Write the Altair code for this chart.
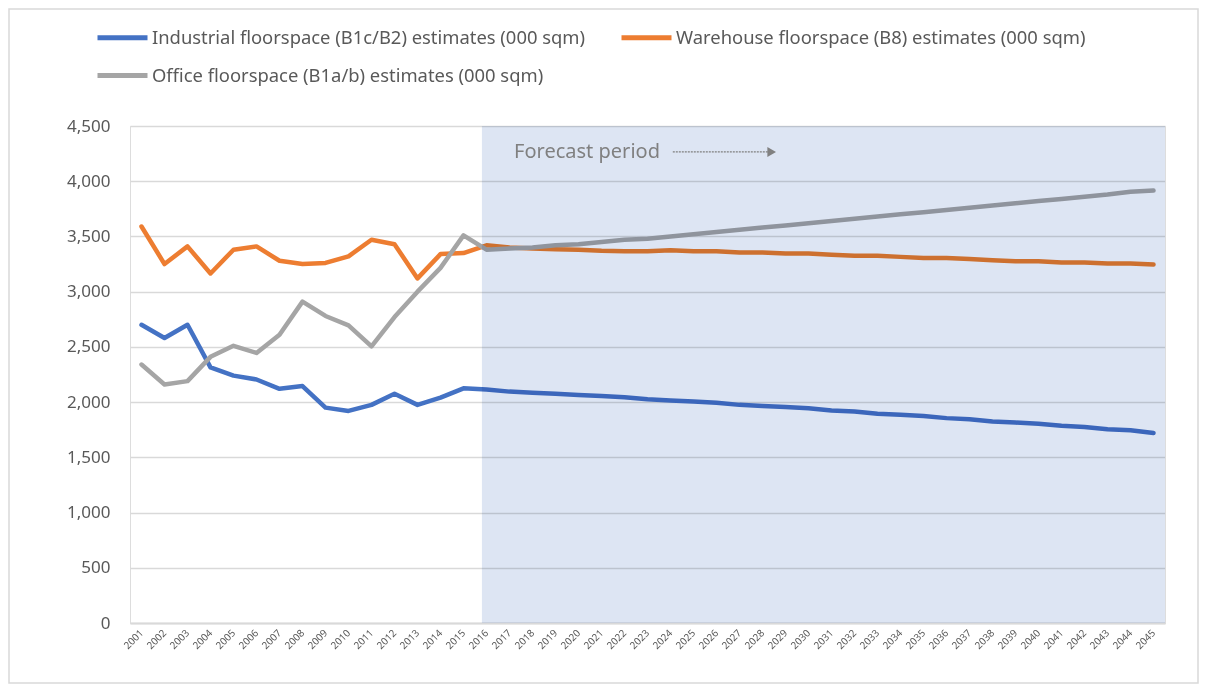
import altair as alt
import pandas as pd

years = list(range(2001, 2046))
industrial = [2700, 2580, 2700, 2315, 2240, 2205, 2120, 2145, 1950, 1920, 1975, 2075, 1975, 2040, 2125,
              2115, 2095, 2085, 2075, 2065, 2055, 2045, 2025, 2015, 2005, 1995, 1975, 1965, 1955, 1945,
              1925, 1915, 1895, 1885, 1875, 1855, 1845, 1825, 1815, 1805, 1785, 1775, 1755, 1745, 1720]
warehouse = [3590, 3250, 3410, 3165, 3380, 3410, 3280, 3250, 3260, 3320, 3470, 3430, 3120, 3340, 3350,
             3420, 3400, 3390, 3385, 3380, 3370, 3365, 3365, 3375, 3365, 3365, 3355, 3355, 3345, 3345,
             3335, 3325, 3325, 3315, 3305, 3305, 3295, 3285, 3275, 3275, 3265, 3265, 3255, 3255, 3245]
office = [2340, 2160, 2190, 2410, 2510, 2445, 2610, 2910, 2780, 2695, 2505, 2770, 3000, 3215, 3510,
          3380, 3390, 3400, 3420, 3430, 3450, 3470, 3480, 3500, 3520, 3540, 3560, 3580, 3600, 3620,
          3640, 3660, 3680, 3700, 3720, 3740, 3760, 3780, 3800, 3820, 3840, 3860, 3880, 3905, 3915]

series_names = [
    "Industrial floorspace (B1c/B2) estimates (000 sqm)",
    "Warehouse floorspace (B8) estimates (000 sqm)",
    "Office floorspace (B1a/b) estimates (000 sqm)",
]
series_colors = ["#4472C4", "#ED7D31", "#A5A5A5"]
y_ticks = list(range(0, 4501, 500))

forecast_start = [2015.8]
forecast_end = [2045.5]
forecast_label = ["Forecast period"]

rows = []
for name, vals in zip(series_names, [industrial, warehouse, office]):
    for y, v in zip(years, vals):
        rows.append({"Year": y, "Value": v, "Series": name})
df = pd.DataFrame(rows)

FONT = "Noto Sans"
xscale = alt.Scale(domain=[2000.5, 2045.5], nice=False, zero=False)
yscale = alt.Scale(domain=[0, 4500], nice=False)

x_axis = alt.Axis(values=years, format="d", labelAngle=-45, labelAlign="right",
                  labelBaseline="middle", labelFontSize=10, labelColor="#595959",
                  labelFont=FONT, grid=False, ticks=False, domainColor="#D9D9D9",
                  domainWidth=2, title=None, labelPadding=8, labelOverlap=False,
                  labelBound=False, labelFlush=False)
y_axis = alt.Axis(values=y_ticks, format=",.0f", labelFontSize=17, labelColor="#595959",
                  labelFont=FONT, grid=True, gridColor="#D9D9D9", gridWidth=1.5,
                  ticks=False, domain=False, title=None, labelPadding=20)

lines = alt.Chart(df).mark_line(strokeWidth=4.5, strokeCap="round", strokeJoin="round").encode(
    x=alt.X("Year:Q", scale=xscale, axis=x_axis),
    y=alt.Y("Value:Q", scale=yscale, axis=y_axis),
    color=alt.Color("Series:N",
                    scale=alt.Scale(domain=series_names, range=series_colors),
                    legend=alt.Legend(title=None, orient="none", legendX=-35, legendY=-116,
                                      columns=2, direction="horizontal",
                                      symbolType="stroke", symbolStrokeWidth=5, symbolSize=2500,
                                      labelFontSize=18.4, labelFont=FONT, labelColor="#595959",
                                      labelOffset=2, columnPadding=25, rowPadding=0,
                                      labelLimit=600)),
)

shade_df = pd.DataFrame({"x0": forecast_start, "x1": forecast_end})
shade = alt.Chart(shade_df).mark_rect(color="#DDE5F3", blend="multiply").encode(
    x=alt.X("x0:Q", scale=xscale, axis=x_axis),
    x2="x1:Q",
    y=alt.value(0),
    y2=alt.value(497),
)

text_df = pd.DataFrame({"x": [2017.2], "y": [4265], "label": forecast_label})
text = alt.Chart(text_df).mark_text(align="left", baseline="middle", fontSize=20, font=FONT,
                                    color="#808080").encode(
    x=alt.X("x:Q", scale=xscale, axis=x_axis), y=alt.Y("y:Q", scale=yscale, axis=y_axis),
    text="label:N")

arrow_df = pd.DataFrame({"x": [2024.1], "x2": [2028.4], "y": [4265]})
arrow_line = alt.Chart(arrow_df).mark_rule(color="#808080", strokeWidth=1.2, strokeDash=[2, 1]).encode(
    x=alt.X("x:Q", scale=xscale, axis=x_axis), x2="x2:Q", y=alt.Y("y:Q", scale=yscale, axis=y_axis))
arrow_head = alt.Chart(arrow_df).mark_point(shape="triangle-right", filled=True, size=100,
                                            color="#808080", opacity=1).encode(
    x=alt.X("x2:Q", scale=xscale, axis=x_axis), y=alt.Y("y:Q", scale=yscale, axis=y_axis))

frame = alt.Chart(shade_df).mark_rect(fillOpacity=0, stroke="#D9D9D9", strokeWidth=1.5).encode(
    x=alt.value(-121), x2=alt.value(1068), y=alt.value(-117), y2=alt.value(557))

chart = alt.layer(lines, shade, text, arrow_line, arrow_head, frame).properties(
    width=1035, height=497,
    autosize=alt.AutoSizeParams(type="none"),
    padding={"left": 122, "top": 118, "right": 34, "bottom": 62},
).configure_view(strokeWidth=0).configure(background="white").configure_axis(labelOverlap=False)

chart.save("out.html", embed_options={"renderer": "svg", "actions": False})
